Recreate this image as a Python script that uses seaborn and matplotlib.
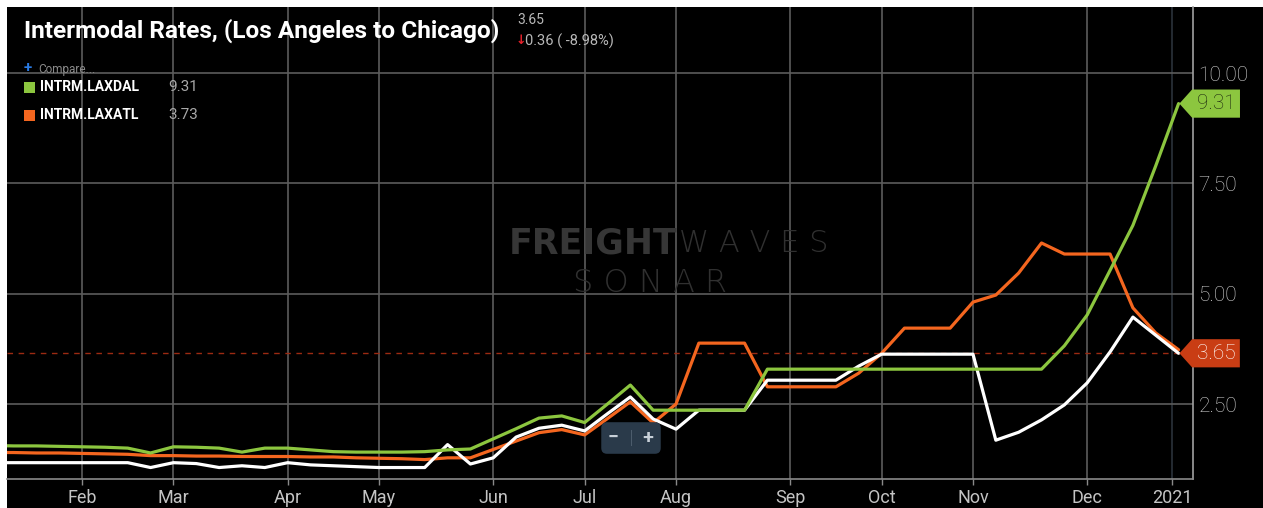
import matplotlib
matplotlib.use("Agg")
import numpy as np
import pandas as pd
import seaborn as sns
import matplotlib.pyplot as plt
from matplotlib.path import Path
from matplotlib.patches import Rectangle

# weekly readings (Sundays), Jan 5 2020 .. Jan 3 2021
weeks = pd.date_range("2020-01-05", periods=53, freq="7D")

la_chicago = [1.17, 1.17, 1.17, 1.17, 1.17, 1.17, 1.17, 1.06, 1.17, 1.15, 1.06, 1.10, 1.06,
              1.17, 1.12, 1.10, 1.08, 1.06, 1.06, 1.06, 1.58, 1.14, 1.28, 1.75, 1.95, 2.02,
              1.89, 2.28, 2.66, 2.16, 1.93, 2.36, 2.36, 2.36, 3.04, 3.04, 3.04, 3.04, 3.36,
              3.63, 3.63, 3.63, 3.63, 3.63, 1.68, 1.86, 2.14, 2.48, 2.98, 3.68, 4.47, 4.06, 3.65]
laxatl = [1.40, 1.40, 1.39, 1.39, 1.38, 1.37, 1.36, 1.33, 1.33, 1.32, 1.32, 1.31, 1.31,
          1.31, 1.30, 1.30, 1.28, 1.27, 1.26, 1.24, 1.28, 1.28, 1.47, 1.66, 1.85, 1.92,
          1.80, 2.17, 2.55, 2.07, 2.50, 3.88, 3.88, 3.88, 2.89, 2.89, 2.89, 2.89, 3.20,
          3.65, 4.22, 4.22, 4.22, 4.81, 4.97, 5.47, 6.15, 5.90, 5.90, 5.90, 4.68, 4.11, 3.73]
laxdal = [1.56, 1.55, 1.55, 1.54, 1.53, 1.52, 1.50, 1.39, 1.53, 1.52, 1.50, 1.41, 1.50,
          1.50, 1.46, 1.42, 1.41, 1.41, 1.41, 1.42, 1.46, 1.48, 1.71, 1.94, 2.18, 2.23,
          2.08, 2.50, 2.93, 2.36, 2.36, 2.36, 2.36, 2.36, 3.29, 3.29, 3.29, 3.29, 3.29,
          3.29, 3.29, 3.29, 3.29, 3.29, 3.29, 3.29, 3.29, 3.82, 4.52, 5.53, 6.55, 7.90, 9.31]

tick_dates = ["2020-02-02", "2020-03-01", "2020-04-05", "2020-05-03", "2020-06-07", "2020-07-05",
              "2020-08-02", "2020-09-06", "2020-10-04", "2020-11-01", "2020-12-06", "2021-01-01"]
tick_labels = ["Feb", "Mar", "Apr", "May", "Jun", "Jul", "Aug", "Sep", "Oct", "Nov", "Dec", "2021"]
y_ticks = [2.5, 5.0, 7.5, 10.0]

names = ["INTRM.LAXATL", "MAIN", "INTRM.LAXDAL"]
palette = {"INTRM.LAXATL": "#f4661f", "MAIN": "#ffffff", "INTRM.LAXDAL": "#8cc63f"}

df = pd.DataFrame({
    "date": np.tile(weeks, 3),
    "rate": laxatl + la_chicago + laxdal,
    "series": np.repeat(names, len(weeks)),
})

sns.set_theme(style="dark")
plt.rcParams["font.family"] = ["Roboto", "DejaVu Sans"]

W, H = 1263, 508
fig = plt.figure(figsize=(W / 100, H / 100), dpi=100, facecolor="white")
fig.add_artist(Rectangle((7 / W, 0), 1 - 7 / W, 501 / H, transform=fig.transFigure,
                         facecolor="black", edgecolor="none", zorder=-10))

ax = fig.add_axes([7 / W, 29 / H, (1193 - 7) / W, (501 - 29) / H])
ax.set_facecolor("black")
ax.set_axisbelow(True)

sns.lineplot(data=df, x="date", y="rate", hue="series", hue_order=names,
             palette=palette, linewidth=2.3, legend=False, ax=ax)

ax.axhline(la_chicago[-1], color="#9c2a12", ls=(0, (4, 4)), lw=1, zorder=1)

ax.set_xlim(pd.Timestamp("2020-01-10"), pd.Timestamp("2021-01-07 10:00"))
ax.set_ylim(0.80, 11.50)
ax.set_xticks(pd.to_datetime(tick_dates))
ax.set_xticklabels(tick_labels)
ax.set_yticks(y_ticks)
ax.set_yticklabels(["%.2f" % v for v in y_ticks])
ax.yaxis.tick_right()
ax.set_xlabel("")
ax.set_ylabel("")

ax.grid(True, color="#5c5c5c", lw=1.2)
ax.xaxis.get_major_ticks()[-1].gridline.set_color("#2b323a")
ax.tick_params(axis="x", colors="#8a8a8a", labelcolor="#c4c4c4", labelsize=13,
               length=4.5, width=1, pad=3, direction="out", bottom=True)
ax.tick_params(axis="y", length=0, pad=4, labelsize=15, labelcolor="#d2d2d2")
for lab in ax.get_yticklabels():
    lab.set_fontweight("light")
for s in ["left", "top"]:
    ax.spines[s].set_visible(False)
ax.spines["right"].set_color("#a0a0a0")
ax.spines["bottom"].set_color("#8a8a8a")
ax.spines["right"].set_linewidth(1.2)
ax.spines["bottom"].set_linewidth(1.2)


def tag_box(x0, y0, width, height, mutation_size):
    pad = 0.22 * mutation_size
    x0, y0, w, h = x0 - pad, y0 - pad, width + 2 * pad, height + 2 * pad
    tip = h * 0.45
    verts = [(x0 - tip, y0 + h / 2), (x0, y0), (x0 + w, y0), (x0 + w, y0 + h),
             (x0, y0 + h), (x0 - tip, y0 + h / 2), (x0 - tip, y0 + h / 2)]
    return Path(verts, closed=True)


ax.annotate("%.2f" % laxdal[-1], xy=(weeks[-1], laxdal[-1]), xytext=(13, 0),
            textcoords="offset points", ha="left", va="center", fontsize=15,
            color="#1e2a10", fontweight="light", annotation_clip=False,
            bbox=dict(boxstyle=tag_box, fc="#8cc63f", ec="none"))
ax.annotate("%.2f" % la_chicago[-1], xy=(weeks[-1], la_chicago[-1]), xytext=(13, 0),
            textcoords="offset points", ha="left", va="center", fontsize=15,
            color="white", fontweight="light", annotation_clip=False,
            bbox=dict(boxstyle=tag_box, fc="#c93d14", ec="none"))

# header
fig.text(24 / W, 1 - 31 / H, "Intermodal Rates, (Los Angeles to Chicago)", color="white",
         fontsize=17.6, fontweight="bold", va="center",
         family=["Liberation Sans Narrow", "Roboto"])
fig.text(517 / W, 1 - 20 / H, "3.65", color="#b8b8b8", fontsize=10, va="center")
fig.text(516 / W, 1 - 41 / H, "\u2193", color="#e8202a", fontsize=9, va="center",
         fontweight="bold", family=["DejaVu Sans"])
fig.text(525 / W, 1 - 41 / H, "0.36 ( -8.98%)", color="#b8b8b8", fontsize=10.5, va="center")
fig.text(24 / W, 1 - 68 / H, "+", color="#2a7be4", fontsize=11, va="center", fontweight="bold")
fig.text(38 / W, 1 - 69 / H, "Compare...", color="#8a8a8a", fontsize=8.5, va="center")

rows = [("INTRM.LAXDAL", laxdal[-1], palette["INTRM.LAXDAL"], 87),
        ("INTRM.LAXATL", laxatl[-1], palette["INTRM.LAXATL"], 115)]
for name, last, col, yp in rows:
    fig.add_artist(Rectangle((24 / W, 1 - (yp + 6) / H), 11 / W, 11 / H,
                             transform=fig.transFigure, fc=col, ec="none"))
    fig.text(40 / W, 1 - yp / H, name, color="white", fontsize=10, fontweight="bold", va="center",
             family=["Liberation Sans Narrow", "Roboto"])
    fig.text(168 / W, 1 - yp / H, "%.2f" % last, color="#a8a8a8", fontsize=11, va="center")

# watermark
fig.text(677 / W, 1 - 244 / H, "FREIGHT", color="#363636", fontsize=25, fontweight="bold",
         ha="right", va="center", family=["DejaVu Sans"], zorder=0)
fig.text(679 / W, 1 - 244 / H, "W A V E S", color="#303030", fontsize=22, fontweight="light",
         ha="left", va="center", family=["DejaVu Sans"], zorder=0)
fig.text(650 / W, 1 - 283 / H, "S O N A R", color="#303030", fontsize=23, fontweight="light",
         ha="center", va="center", family=["DejaVu Sans"], zorder=0)
for i in range(6):
    fig.add_artist(Rectangle(((452 + i * 4.3) / W, 1 - 255 / H), 2.4 / W, 21 / H,
                             transform=fig.transFigure, fc="#303030", ec="none", zorder=0))

# zoom control
fig.text(631 / W, 1 - 438 / H, "\u2212     +", color="#c8d0d8", fontsize=14, fontweight="bold",
         ha="center", va="center",
         bbox=dict(boxstyle="round,pad=0.35,rounding_size=0.3", fc="#2a3a4a", ec="none"))
fig.add_artist(Rectangle((630.5 / W, 1 - 446 / H), 1 / W, 16 / H,
                         transform=fig.transFigure, fc="#4c5c6c", ec="none", zorder=5))

fig.savefig("out.png", dpi=100, facecolor=fig.get_facecolor())
